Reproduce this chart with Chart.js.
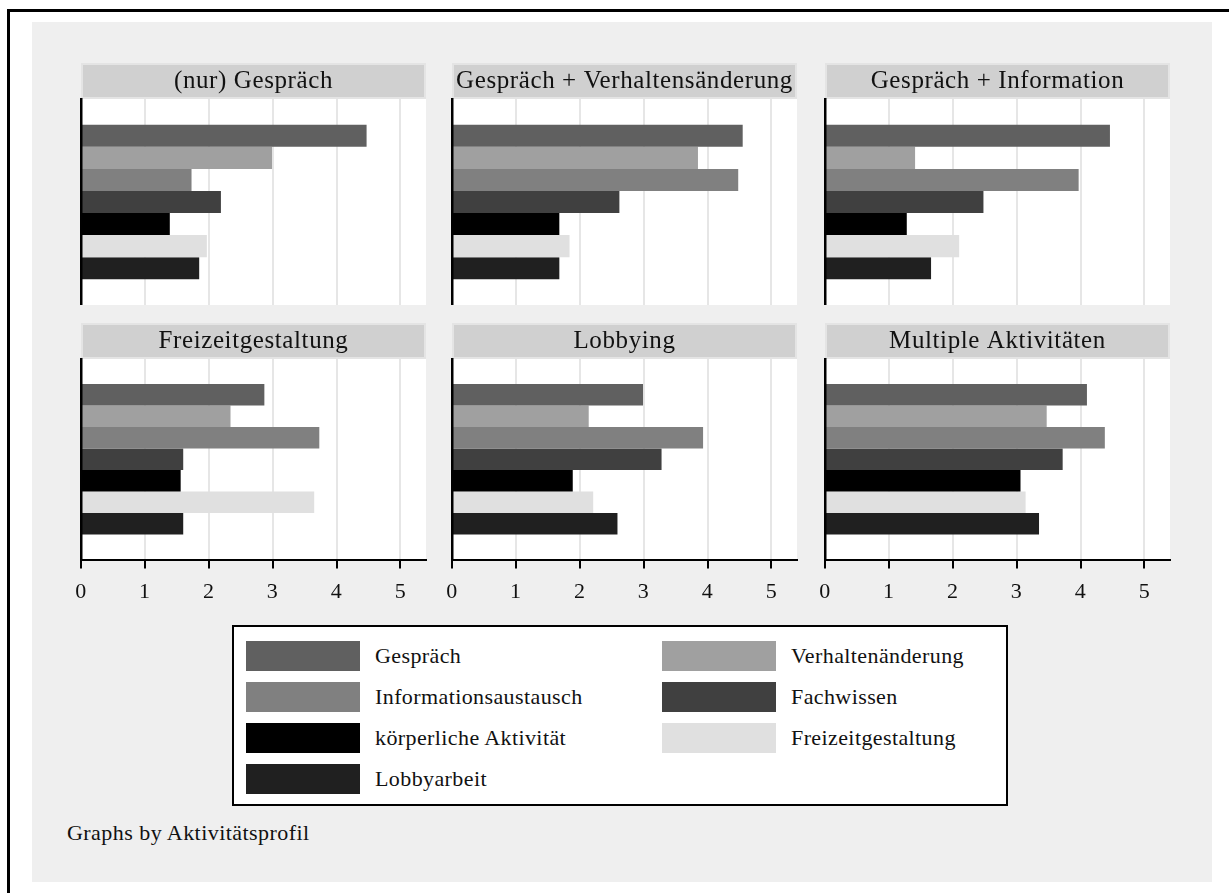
<!DOCTYPE html>
<html>
<head>
<meta charset="utf-8">
<script src="https://cdn.jsdelivr.net/npm/chart.js@4.4.1/dist/chart.umd.min.js"></script>
<style>
  body { margin: 0; background: #fff; width: 1229px; height: 893px; overflow: hidden; position: relative;
         font-family: "Liberation Serif", "Times New Roman", serif; color: #111; }
  #frame { position: absolute; left: 7px; top: 9px; width: 1300px; height: 1000px;
           border-left: 3px solid #000; border-top: 3px solid #000; }
  #bg { position: absolute; left: 32px; top: 22px; width: 1180px; height: 860px; background: #efefef; }
  .panel { position: absolute; }
  #legend { position: absolute; left: 232px; top: 625px; width: 760px; height: 163px;
            border: 2px solid #000; background: #fff; padding: 14px 0 0 12px;
            display: grid; grid-template-columns: 416px auto; grid-auto-rows: 41px; }
  .item { display: flex; align-items: flex-start; font-size: 22px; letter-spacing: 0.4px; }
  .swatch { width: 114px; height: 30px; margin-right: 15px; flex: none; }
  .item span { line-height: 30px; }
  #note { position: absolute; left: 67px; top: 822px; font-size: 22px; line-height: 22px; letter-spacing: 0.45px; }
</style>
</head>
<body>
<div id="frame"></div>
<div id="bg"></div>
<div id="panels"></div>
<div id="legend"></div>
<div id="note">Graphs by Aktivitätsprofil</div>
<script>
// panels (one per Aktivitätsprofil)
const panels = ["(nur) Gespräch", "Gespräch + Verhaltensänderung", "Gespräch + Information",
                "Freizeitgestaltung", "Lobbying", "Multiple Aktivitäten"];

// series names and their fill greys
const activities = ["Gespräch", "Verhaltenänderung", "Informationsaustausch", "Fachwissen",
                    "körperliche Aktivität", "Freizeitgestaltung", "Lobbyarbeit"];
const colors = ["#606060", "#a0a0a0", "#808080", "#404040", "#000000", "#e0e0e0", "#202020"];

// values per activity, in panel order
const gespraech   = [4.47, 4.55, 4.46, 2.87, 2.99, 4.10];
const verhalten   = [2.99, 3.85, 1.41, 2.34, 2.14, 3.47];
const information = [1.73, 4.48, 3.97, 3.73, 3.93, 4.38];
const fachwissen  = [2.19, 2.62, 2.48, 1.60, 3.28, 3.72];
const koerper     = [1.39, 1.68, 1.28, 1.56, 1.89, 3.06];
const freizeit    = [1.97, 1.84, 2.10, 3.65, 2.21, 3.14];
const lobby       = [1.85, 1.68, 1.66, 1.60, 2.59, 3.35];
const series = [gespraech, verhalten, information, fachwissen, koerper, freizeit, lobby];

// x axis
const xMax = 5.4;
const xStep = 1;

const serif = "'Liberation Serif', 'Times New Roman', serif";
const axisX = [81, 452, 825];
const plotW = 345;

// grey title bar + white plot background
const panelBox = {
    id: "panelBox",
    beforeDraw(chart) {
        const { ctx, chartArea: a, titleBlock: t } = chart;
        ctx.save();
        ctx.fillStyle = "#fff";
        ctx.fillRect(a.left, a.top, a.width, a.height);
        ctx.fillStyle = "#e4e4e4";
        ctx.fillRect(a.left, t.top, a.width, t.height);
        ctx.fillStyle = "#d0d0d0";
        ctx.fillRect(a.left + 2, t.top + 2, a.width - 4, t.height - 4);
        ctx.restore();
        // Stata-like loose text spacing
        ctx.letterSpacing = "0.6px";
    }
};

function makePanel(i) {
    const bottomRow = i >= 3;
    const col = i % 3;
    const wrap = document.createElement("div");
    wrap.className = "panel";
    wrap.style.left = (axisX[col] - 14) + "px";
    wrap.style.top = (bottomRow ? 323 : 63) + "px";
    const canvas = document.createElement("canvas");
    canvas.width = plotW + 28;
    canvas.height = bottomRow ? 292 : 242;
    wrap.appendChild(canvas);
    document.getElementById("panels").appendChild(wrap);

    new Chart(canvas, {
        type: "bar",
        data: {
            labels: [panels[i]],
            datasets: activities.map((name, k) => ({
                label: name,
                data: [series[k][i]],
                backgroundColor: colors[k],
                borderWidth: 0,
                categoryPercentage: 0.75,
                barPercentage: 1
            }))
        },
        options: {
            indexAxis: "y",
            responsive: false,
            animation: false,
            layout: { padding: { left: 14, right: 14 } },
            plugins: {
                legend: { display: false },
                tooltip: { enabled: false },
                title: {
                    display: true,
                    text: panels[i],
                    color: "#111",
                    font: { family: serif, size: 25, weight: "normal", lineHeight: 1.2 },
                    padding: { top: 3, bottom: 3 }
                }
            },
            scales: {
                x: {
                    min: 0,
                    max: xMax,
                    afterFit: s => { s.paddingLeft = 0; s.paddingRight = 0; },
                    grid: {
                        color: c => (c.tick && c.tick.value === 0) ? "rgba(0,0,0,0)" : "#e6e6e6",
                        lineWidth: 2,
                        drawTicks: bottomRow,
                        tickColor: "#000",
                        tickWidth: 2,
                        tickLength: 9
                    },
                    border: { display: bottomRow, color: "#000", width: 2 },
                    ticks: {
                        display: bottomRow,
                        stepSize: xStep,
                        includeBounds: false,
                        padding: 10,
                        color: "#111",
                        font: { family: serif, size: 22 }
                    }
                },
                y: {
                    grid: { display: false, drawTicks: false },
                    ticks: { display: false },
                    border: { display: true, color: "#000", width: 2.5, z: 1 }
                }
            }
        },
        plugins: [panelBox]
    });
}

panels.forEach((p, i) => makePanel(i));

// legend, two columns
const legend = document.getElementById("legend");
activities.forEach((name, k) => {
    const item = document.createElement("div");
    item.className = "item";
    item.innerHTML = `<div class="swatch" style="background:${colors[k]}"></div><span>${name}</span>`;
    legend.appendChild(item);
});
</script>
</body>
</html>
